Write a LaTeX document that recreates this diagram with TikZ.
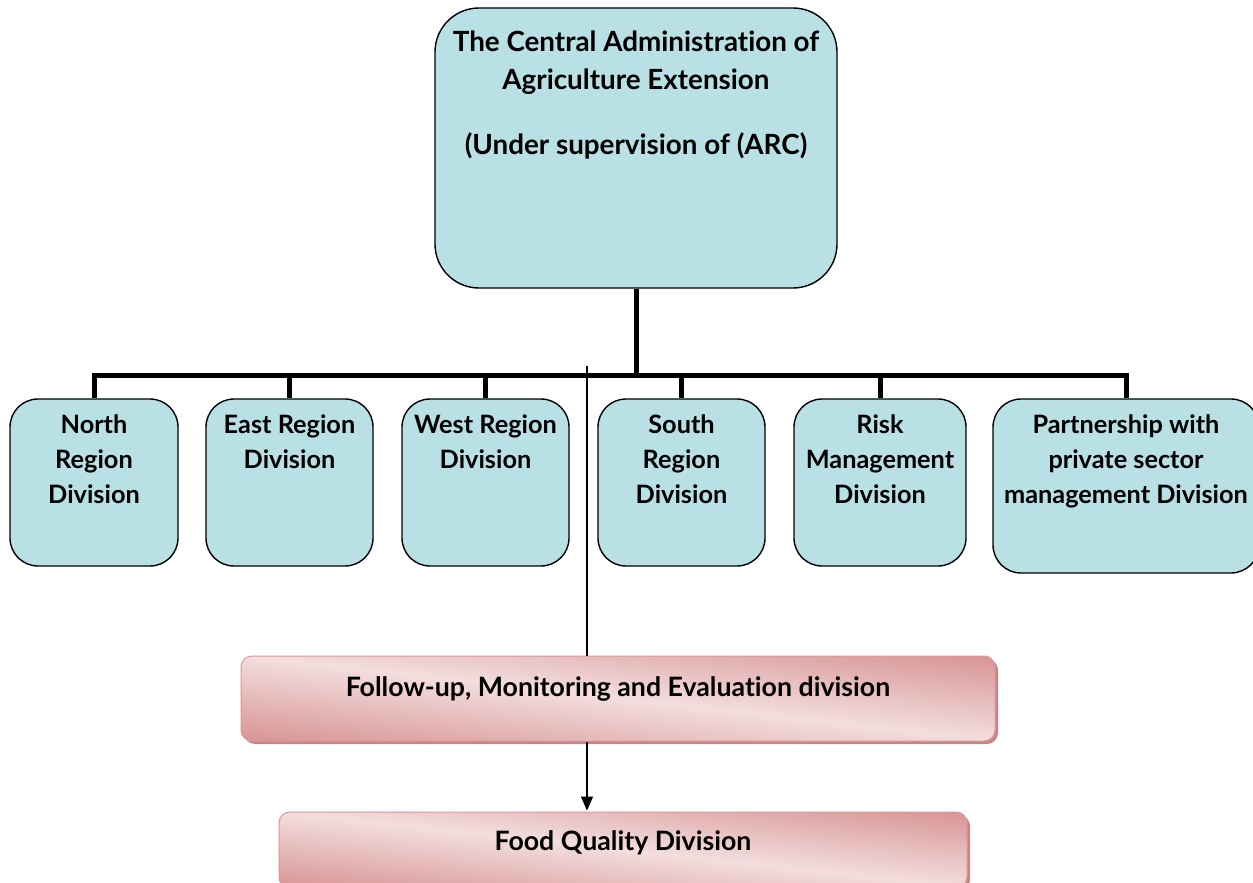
\documentclass[tikz,border=0pt]{standalone}
\usepackage{fontspec}
\setmainfont{Lato}[Ligatures=NoCommon]
\usetikzlibrary{arrows.meta,shadows,calc}

\definecolor{boxfill}{RGB}{185,224,228}
\definecolor{pinkdark}{RGB}{216,148,148}
\definecolor{pinklight}{RGB}{243,222,222}
\definecolor{pinkshadow}{RGB}{196,134,134}
\definecolor{pinkedge}{RGB}{222,150,150}

% text placed at the top of a fixed-size box
\newcommand{\toplabel}[4]{\parbox[c][#2][t]{#1}{\centering\vspace*{#3}#4\par}}

\begin{document}
\begin{tikzpicture}[x=1pt,y=-1pt,
  divbox/.style={draw=black, line width=1.4pt, fill=boxfill, rounded corners=28pt,
    inner sep=0pt, font=\fontsize{25.3}{35}\selectfont\bfseries},
  headbox/.style={divbox, rounded corners=44pt, font=\fontsize{27.8}{38}\selectfont\bfseries},
  % diagonal gradient: dark at top-right and bottom-left, light along the other diagonal
  pinkbox/.style={draw=pinkedge, line width=1pt, rounded corners=11pt, inner sep=0pt,
    fill=pinkdark,
    drop shadow={shadow xshift=3pt, shadow yshift=-3pt, fill=pinkshadow, opacity=1},
    path picture={
      \path (path picture bounding box.north west) coordinate (pnw)
            (path picture bounding box.south east) coordinate (pse);
      \foreach \k in {0,...,99}{
        \pgfmathsetmacro\ta{-1+\k/50}
        \pgfmathsetmacro\tb{\ta+0.03}
        \pgfmathsetmacro\p{100*(1-abs(\ta+0.01))}
        \fill[sharp corners, pinklight!\p!pinkdark]
          let \p1=(pnw), \p2=(pse) in
          ({\x1+\ta*(\x2-\x1)},{\y1}) -- ({\x1+\tb*(\x2-\x1)},{\y1}) --
          ({\x1+(\tb+1)*(\x2-\x1)},{\y2}) -- ({\x1+(\ta+1)*(\x2-\x1)},{\y2}) -- cycle;
      }
    },
    font=\fontsize{26.7}{35}\selectfont\bfseries},
  busline/.style={line width=5pt, line join=miter},
  thinline/.style={line width=1.4pt}]

\useasboundingbox (0,0) rectangle (1253,883);

% lines between the boxes
\coordinate (bus) at (93,375);
\coordinate (fmtop) at (587,366);

% head of the organisation
\node[headbox] (head) at (636,148)
  {\toplabel{402pt}{280pt}{23pt}{The Central Administration of\\Agriculture Extension\\[27pt](Under supervision of (ARC)}};

% divisions
\node[divbox] (north) at (94,482.5) {\toplabel{168pt}{167pt}{16pt}{North\\Region\\Division}};
\node[divbox] (east) at (289.5,482.5) {\toplabel{167pt}{167pt}{16pt}{East Region\\Division}};
\node[divbox] (west) at (485.5,482.5) {\toplabel{167pt}{167pt}{16pt}{West Region\\Division}};
\node[divbox] (south) at (681.5,482.5) {\toplabel{167pt}{167pt}{16pt}{South\\Region\\Division}};
\node[divbox] (risk) at (880,482.5) {\toplabel{172pt}{167pt}{16pt}{Risk\\Management\\Division}};
\node[divbox] (partner) at (1126,486) {\toplabel{266pt}{174pt}{16pt}{Partnership with\\private sector\\management Division}};

% follow-up and food quality
\node[pinkbox] (follow) at (618,698.5) {\toplabel{754pt}{85pt}{21pt}{Follow-up, Monitoring and Evaluation division}};
\node[pinkbox] (food) at (623,850) {\toplabel{688pt}{76pt}{19pt}{Food Quality Division}};

% connectors
\draw[busline] (head.south) -- (head.south |- bus);
\draw[busline] (north.north) -- (north.north |- bus) -- (partner.north |- bus) -- (partner.north);
\draw[busline] (east.north) -- (east.north |- bus);
\draw[busline] (west.north) -- (west.north |- bus);
\draw[busline] (south.north) -- (south.north |- bus);
\draw[busline] (risk.north) -- (risk.north |- bus);

\draw[thinline] (fmtop) -- (fmtop |- follow.north);
\draw[thinline, -{Triangle[length=14pt, width=12pt]}] (follow.south -| fmtop) -- ([yshift=1pt]food.north -| fmtop);

\end{tikzpicture}
\end{document}
